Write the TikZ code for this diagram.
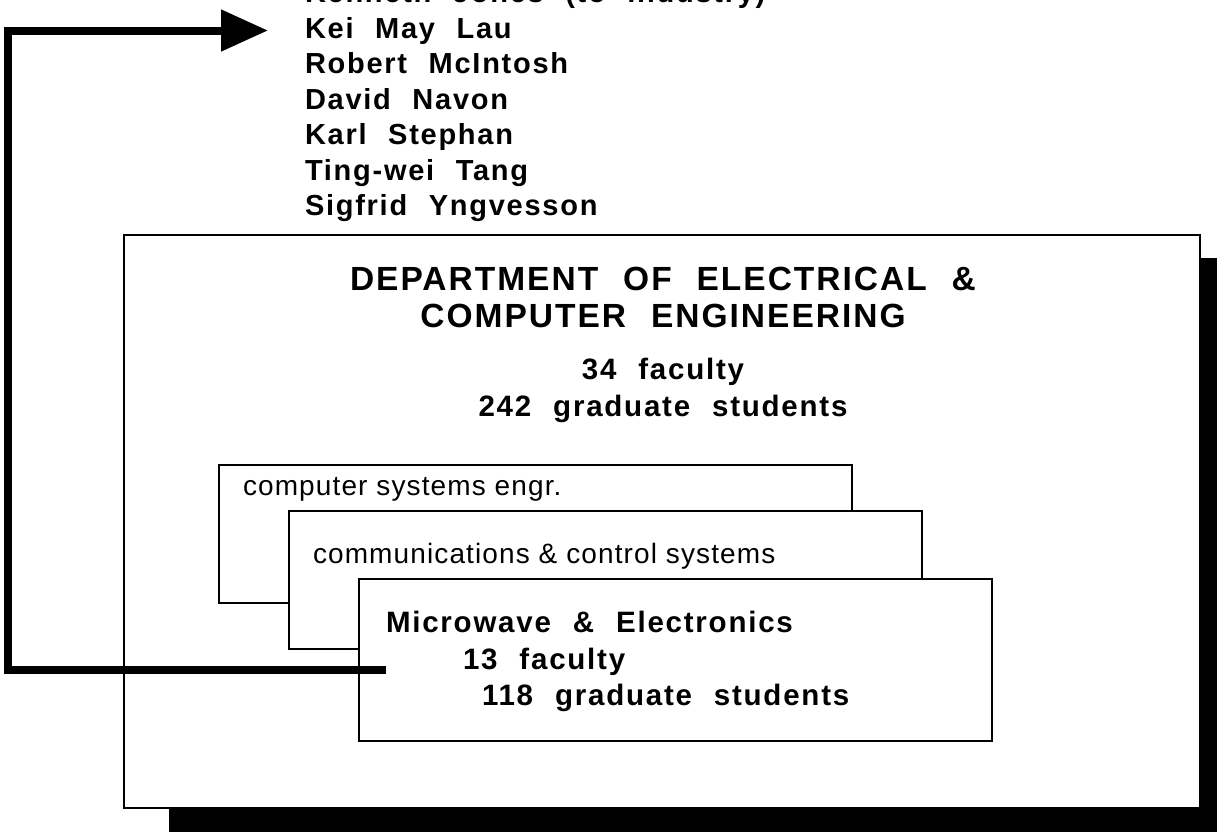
\documentclass[tikz,border=0pt]{standalone}
\usepackage{fontspec}
\usetikzlibrary{arrows.meta,positioning}
\newfontfamily\deptfont{Liberation Sans}[LetterSpace=6,WordSpace=2.2]
\newfontfamily\thinfont{Liberation Sans}[LetterSpace=4]
\tikzset{every picture/.style={line width=2pt},
  heading/.style={font=\deptfont\bfseries\fontsize{33.5}{38}\selectfont, inner sep=0pt, anchor=base},
  person/.style={font=\deptfont\bfseries\fontsize{29}{33}\selectfont, inner sep=0pt, anchor=base west},
  tally/.style={font=\deptfont\bfseries\fontsize{29.5}{33}\selectfont, inner sep=0pt},
  subunit/.style={font=\thinfont\fontsize{28}{32}\selectfont, inner sep=0pt, anchor=base west},
  panel/.style={draw=black, fill=white, line width=2pt},
  link/.style={line width=8pt, line join=miter, -{Triangle[length=47pt,width=40pt]}}}

\begin{document}
\begin{tikzpicture}[x=1pt,y=-1pt]
    \useasboundingbox (0,0) rectangle (1217,831);
    % staff list
    \node[person] (jones) at (304,2.5) {Kenneth Jones (to industry)};
    \node[person] (lau) at (304,38) {Kei May Lau};
    \node[person] (mcintosh) at (304,73.5) {Robert McIntosh};
    \node[person] (navon) at (304,109) {David Navon};
    \node[person] (stephan) at (304,144.5) {Karl Stephan};
    \node[person] (tang) at (304,180) {Ting-wei Tang};
    \node[person] (yngvesson) at (304,215.5) {Sigfrid Yngvesson};
    % department box with shadow
    \fill[black] (169,258) rectangle (1230,845);
    \draw[panel] (124,235) rectangle (1200,808);
    \node[heading] (dept1) at (663,290) {DEPARTMENT OF ELECTRICAL \&};
    \node[heading] (dept2) at (663,327.5) {COMPUTER ENGINEERING};
    \node[tally, anchor=base] (deptfac) at (663,379) {34 faculty};
    \node[tally, anchor=base] (deptgrad) at (663,416) {242 graduate students};
    % divisions
    \draw[panel] (219,465) rectangle (852,603);
    \node[subunit] (cse) at (242,495) {computer systems engr.};
    \draw[panel] (289,511) rectangle (922,649);
    \node[subunit] (ccs) at (312,563) {communications \& control systems};
    \draw[panel] (359,579) rectangle (992,741);
    \node[tally, anchor=base west] (mw) at (385,632) {Microwave \& Electronics};
    \node[tally, anchor=base west] (mwfac) at (462,669) {13 faculty};
    \node[tally, anchor=base west] (mwgrad) at (481,705) {118 graduate students};
    % back to the people
    \coordinate (tail) at (386,670);
    \coordinate (bend) at (8,670);
    \draw[link] (tail) -- (bend) |- ([xshift=-36pt]lau.west);
\end{tikzpicture}
\end{document}
